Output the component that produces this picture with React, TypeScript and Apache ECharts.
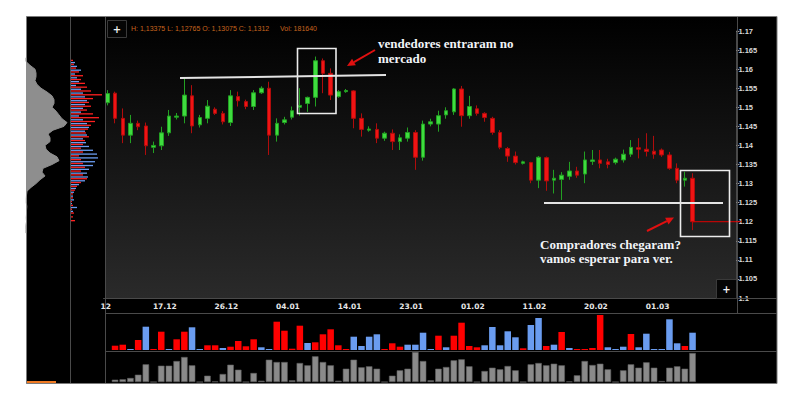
import { useEffect, useRef } from "react";
import * as echarts from "echarts";

// ---------- DATA ----------
const dates = [
  "09.12","10.12","11.12","12.12","13.12","14.12","16.12","17.12","18.12","19.12",
  "20.12","21.12","23.12","24.12","25.12","26.12","27.12","28.12","30.12","31.12",
  "01.01","02.01","03.01","04.01","06.01","07.01","08.01","09.01","10.01","11.01",
  "13.01","14.01","15.01","16.01","17.01","18.01","20.01","21.01","22.01","23.01",
  "24.01","25.01","27.01","28.01","29.01","30.01","31.01","01.02","03.02","04.02",
  "05.02","06.02","07.02","08.02","10.02","11.02","12.02","13.02","14.02","15.02",
  "17.02","18.02","19.02","20.02","21.02","22.02","24.02","25.02","26.02","27.02",
  "28.02","01.03","03.03","04.03","05.03","06.03","07.03",
];
const tickLabels = ["17.12","26.12","04.01","14.01","23.01","01.02","11.02","20.02","01.03"];

const opens = [
  1.1512,1.1537,1.1471,1.1427,1.1458,1.1451,1.1395,1.1399,1.1433,1.1474,
  1.1477,1.1530,1.1454,1.1471,1.1495,1.1484,1.1460,1.1528,1.1515,1.1502,
  1.1538,1.1550,1.1427,1.1460,1.1474,1.1500,1.1510,1.1526,1.1622,1.1589,
  1.1528,1.1541,1.1543,1.1471,1.1440,1.1442,1.1419,1.1432,1.1410,1.1419,
  1.1434,1.1369,1.1456,1.1456,1.1480,1.1488,1.1548,1.1478,1.1496,1.1484,
  1.1471,1.1434,1.1392,1.1372,1.1353,1.1355,1.1309,1.1368,1.1309,1.1311,
  1.1319,1.1333,1.1325,1.1358,1.1362,1.1357,1.1355,1.1362,1.1377,1.1394,
  1.1390,1.1385,1.1388,1.1375,1.1340,1.1309,1.1314,
];
const closes = [
  1.1536,1.1471,1.1427,1.1458,1.1449,1.1399,1.1400,1.1433,1.1477,1.1477,
  1.1532,1.1451,1.1473,1.1503,1.1484,1.1462,1.1530,1.1517,1.1502,1.1538,
  1.1550,1.1427,1.1458,1.1467,1.1491,1.1505,1.1526,1.1622,1.1589,1.1532,
  1.1541,1.1544,1.1471,1.1442,1.1443,1.1419,1.1432,1.1410,1.1420,1.1434,
  1.1369,1.1456,1.1462,1.1478,1.1491,1.1548,1.1478,1.1502,1.1484,1.1473,
  1.1434,1.1395,1.1372,1.1355,1.1357,1.1309,1.1369,1.1307,1.1314,1.1322,
  1.1333,1.1322,1.1362,1.1362,1.1353,1.1350,1.1364,1.1377,1.1395,1.1390,
  1.1384,1.1377,1.1375,1.1340,1.1309,1.1314,1.1200,
];
const lows = [
  1.1505,1.1458,1.1406,1.1406,1.1440,1.1375,1.1380,1.1388,1.1425,1.1468,
  1.1458,1.1432,1.1447,1.1458,1.1480,1.1455,1.1451,1.1502,1.1495,1.1493,
  1.1535,1.1375,1.1410,1.1455,1.1468,1.1478,1.1488,1.1502,1.1537,1.1519,
  1.1525,1.1538,1.1445,1.1423,1.1436,1.1406,1.1412,1.1388,1.1388,1.1410,
  1.1336,1.1360,1.1450,1.1436,1.1470,1.1480,1.1449,1.1470,1.1478,1.1462,
  1.1428,1.1390,1.1357,1.1350,1.1350,1.1301,1.1288,1.1281,1.1274,1.1257,
  1.1310,1.1315,1.1301,1.1349,1.1340,1.1340,1.1350,1.1355,1.1370,1.1366,
  1.1371,1.1365,1.1370,1.1336,1.1301,1.1292,1.1178,
];
const highs = [
  1.1545,1.1541,1.1497,1.1480,1.1465,1.1460,1.1410,1.1449,1.1493,1.1485,
  1.1576,1.1558,1.1480,1.1519,1.1500,1.1490,1.1545,1.1541,1.1520,1.1545,
  1.1555,1.1567,1.1471,1.1475,1.1502,1.1550,1.1528,1.1633,1.1628,1.1602,
  1.1545,1.1548,1.1545,1.1484,1.1450,1.1458,1.1436,1.1442,1.1429,1.1447,
  1.1440,1.1465,1.1470,1.1491,1.1500,1.1550,1.1556,1.1530,1.1505,1.1487,
  1.1475,1.1440,1.1396,1.1384,1.1360,1.1357,1.1372,1.1371,1.1336,1.1330,
  1.1357,1.1344,1.1384,1.1388,1.1388,1.1365,1.1368,1.1389,1.1414,1.1419,
  1.1432,1.1425,1.1392,1.1383,1.1353,1.1331,1.1327,
];

// signed: negative = sellers (red), positive = buyers (blue)
const deltaVolume = [
  null,-4.3,-5.3,0.7,-10,23.3,-0.7,-18.3,1,-10.7,
  -18.3,22.7,0.3,-4.7,-4.7,2,-3.3,-9,-3.7,-10.7,
  2.7,0.3,-28.3,-19.3,-1.3,-24.3,7,-7.7,-15.7,-20.7,
  -4.7,-0.3,13.3,4,13.3,15.7,-0.3,-6.7,-3.3,5.3,
  5.3,17.3,0.7,-14.3,2.7,-14.3,-27.3,-4,-2.7,4.7,
  23,4.7,18.7,12.7,-1.7,25,32,-4,5.3,-18,
  2,-0.7,-0.7,-2,-35,2.7,0.7,3.3,-16,2.7,
  16.3,0.3,0.3,30.7,6.7,-4,17.3,
];
const totalVolume = [
  null,2.3,2.7,4,7.3,17.7,0,16.3,16.3,21,
  25,16.7,0,6.3,0.5,8,17.3,12.3,0,9,
  1.3,22.3,20,20,1.7,19,16.7,25.7,20,16.7,
  1.3,13.3,22.3,14.7,15.7,13.3,0,6.3,11.7,13.3,
  30,21,1.7,13.3,15,21.7,22.7,15.7,0,11,
  14.3,12.7,16,11.7,0,17.7,19,16.7,18.3,16.7,
  0.5,6.7,21,17,18.3,12.7,0,11.7,17.7,14.3,
  19.7,14.3,1,14.3,15.7,13.3,29,
];

// volume profile by price level (ascending prices)
const priceLevels = [
  1.117,1.118,1.119,1.120,1.121,1.122,1.123,1.124,1.125,1.126,
  1.127,1.128,1.129,1.130,1.131,1.132,1.133,1.134,1.135,1.136,
  1.137,1.138,1.139,1.140,1.141,1.142,1.143,1.144,1.145,1.146,
  1.147,1.148,1.149,1.150,1.151,1.152,1.153,1.154,1.155,1.156,
  1.157,1.158,1.159,1.160,1.161,1.162,1.163,
];
const profileTotal = [
  0,0,0,0.5,0.3,0.5,0.5,0.8,0.3,0.3,
  0.5,1,5,10,14,19,16,17,26,33,
  31,24,20,19,24,24,22,27,38,41,
  36,33,30,26,28,28,26,21,15,11,
  9,10,10,9,4,0,0,
];
const profileSell = [
  0,0,0,4,2,3,1,2,1,2,
  2,4,6,10,16,12,10,14,12,10,
  8,12,10,12,14,18,15,17,20,24,
  28,22,16,20,18,22,31,20,16,14,
  10,12,8,5,3,2,0,
];
const profileBuy = [
  0,0,0,0,0,0,2,6,1,3,
  2,3,5,8,14,17,16,18,22,24,
  27,26,22,18,15,12,16,14,18,16,
  12,8,10,12,14,16,14,12,10,5,
  8,6,4,10,6,4,0,
];

const headerOHLC = "H: 1,13375 L: 1,12765 O: 1,13075 C: 1,1312";
const headerVol = "Vol: 181640";
const note1 = ["vendedores entraram no", "mercado"];
const note2 = ["Compradores chegaram?", "vamos esperar para ver."];

// ---------- LAYOUT ----------
const PRICE_MIN = 1.1;
const PRICE_MAX = 1.17;
const PLOT_TOP = 31;
const PLOT_H = 267;
const PLOT_LEFT = 103.5;
const PLOT_W = 631.4;
const SLOT_COUNT = 82;

const GREEN = "#3fdc3f";
const GREEN_EDGE = "#22a022";
const RED = "#f01414";
const RED_EDGE = "#b00c0c";
const BLUE = "#6a9cf0";
const LINE = "#4a4a4a";

function priceToY(p: number) {
  return PLOT_TOP + ((PRICE_MAX - p) / (PRICE_MAX - PRICE_MIN)) * PLOT_H;
}

function arrow(x1: number, y1: number, x2: number, y2: number, color: string) {
  const dx = x2 - x1, dy = y2 - y1;
  const len = Math.hypot(dx, dy);
  const ux = dx / len, uy = dy / len;
  const hl = 8, hw = 3.8;
  const bx = x2 - ux * hl, by = y2 - uy * hl;
  return [
    { type: "line", z: 100, shape: { x1, y1, x2: bx, y2: by }, style: { stroke: color, lineWidth: 2 } },
    {
      type: "polygon", z: 100,
      shape: { points: [[x2, y2], [bx - uy * hw, by + ux * hw], [bx + uy * hw, by - ux * hw]] },
      style: { fill: color },
    },
  ];
}

function plusBox(x: number, y: number, w: number, h: number) {
  return [
    { type: "rect", z: 60, shape: { x: x + 0.5, y: y + 0.5, width: w, height: h }, style: { fill: "#050505", stroke: "#3a3a3a", lineWidth: 1 } },
    {
      type: "text", z: 61, x: x + w / 2 + 0.5, y: y + h / 2 + 0.5,
      style: { text: "+", fill: "#f0f0f0", fontSize: 10, fontWeight: "bold", fontFamily: "DejaVu Sans", align: "center", verticalAlign: "middle" },
    },
  ];
}

export default function App() {
  const ref = useRef<HTMLDivElement>(null);

  useEffect(() => {
    if (!ref.current) return;
    const chart = echarts.init(ref.current, null, { renderer: "svg" });

    const cats = dates.concat(
      Array.from({ length: SLOT_COUNT - dates.length }, (_, i) => "_pad" + i)
    );
    const candleData = dates.map((_, i) => [opens[i], closes[i], lows[i], highs[i]]);

    const profTop = priceToY(priceLevels[priceLevels.length - 1]);
    const profBottom = priceToY(priceLevels[0]);
    const profStep = (profBottom - profTop) / (priceLevels.length - 1);
    const levelCats = priceLevels.map((p) => p.toFixed(3));

    chart.setOption({
      animation: false,
      backgroundColor: "transparent",
      grid: [
        { left: PLOT_LEFT, top: PLOT_TOP, width: PLOT_W, height: PLOT_H, outerBoundsMode: "none" },
        { left: PLOT_LEFT, top: 315, width: PLOT_W, height: 35, outerBoundsMode: "none" },
        { left: PLOT_LEFT, top: 352, width: PLOT_W, height: 30, outerBoundsMode: "none" },
        { left: 26, top: profTop, width: 44, height: profBottom - profTop, outerBoundsMode: "none" },
        { left: 71, top: profTop - profStep / 2, width: 33, height: profBottom - profTop + profStep, outerBoundsMode: "none" },
      ],
      xAxis: [
        {
          type: "category", gridIndex: 0, data: cats, boundaryGap: true,
          axisLine: { show: true, lineStyle: { color: LINE } },
          axisTick: { show: false },
          splitLine: { show: false },
          axisLabel: {
            interval: (_i: number, v: string) => tickLabels.includes(v),
            color: "#e6e6e6", fontSize: 7.5, fontWeight: "bold", fontFamily: "DejaVu Sans",
            margin: 4, padding: [0, 0, 0, 7],
          },
        },
        { type: "category", gridIndex: 1, data: cats, show: false, boundaryGap: true },
        { type: "category", gridIndex: 2, data: cats, show: false, boundaryGap: true },
        { type: "value", gridIndex: 3, min: 0, max: 44, show: false },
        { type: "value", gridIndex: 4, min: 0, max: 33, show: false },
      ],
      yAxis: [
        {
          type: "value", gridIndex: 0, position: "right", offset: 1.5,
          min: PRICE_MIN, max: PRICE_MAX, interval: 0.005,
          axisLine: { show: true, lineStyle: { color: LINE } },
          axisTick: { show: true, length: 3, lineStyle: { color: "#9a9a9a" } },
          splitLine: { show: false },
          axisLabel: {
            color: "#d8d8d8", fontSize: 7.5, fontWeight: "bold", fontFamily: "Liberation Sans", margin: 2,
            formatter: (v: number) => String(+v.toFixed(3)),
          },
        },
        { type: "value", gridIndex: 1, min: 0, max: 35, show: false },
        { type: "value", gridIndex: 2, min: 0, max: 30, show: false },
        { type: "category", gridIndex: 3, data: levelCats, boundaryGap: false, show: false },
        { type: "category", gridIndex: 4, data: levelCats, boundaryGap: true, show: false },
      ],
      series: [
        {
          type: "candlestick", xAxisIndex: 0, yAxisIndex: 0, data: candleData, barWidth: 4,
          itemStyle: { color: GREEN, color0: RED, borderColor: GREEN_EDGE, borderColor0: RED_EDGE, borderWidth: 1 },
        },
        {
          type: "bar", xAxisIndex: 1, yAxisIndex: 1, barWidth: 6.5, barMinHeight: 1,
          data: deltaVolume.map((v) =>
            v == null ? null : { value: Math.abs(v), itemStyle: { color: v < 0 ? "#ff0000" : BLUE } }
          ),
        },
        {
          type: "bar", xAxisIndex: 2, yAxisIndex: 2, barWidth: 6.5,
          data: totalVolume,
          itemStyle: { color: "#8a8a8a", borderColor: "#5e5e5e", borderWidth: 0.6 },
        },
        {
          type: "line", xAxisIndex: 3, yAxisIndex: 3, data: profileTotal, symbol: "none",
          lineStyle: { width: 1, color: "#8e8e8e" },
          areaStyle: { color: "#8e8e8e", opacity: 1 },
        },
        {
          type: "bar", xAxisIndex: 4, yAxisIndex: 4, data: profileSell, barWidth: 1.3, barGap: "60%",
          itemStyle: { color: "#ff2020" },
        },
        {
          type: "bar", xAxisIndex: 4, yAxisIndex: 4, data: profileBuy, barWidth: 1.3, barGap: "60%",
          itemStyle: { color: BLUE },
        },
      ],
    });

    const last = dates.length - 1;
    const lp = chart.convertToPixel({ seriesIndex: 0 }, [last, closes[last]]) as number[];

    const bgGradient = new echarts.graphic.LinearGradient(0, 0, 0, 1, [
      { offset: 0, color: "#000000" },
      { offset: 1, color: "#2a2a2a" },
    ]);

    const hline = (x1: number, x2: number, y: number) => ({
      type: "line", z: 5, shape: { x1, y1: y, x2, y2: y }, style: { stroke: LINE, lineWidth: 1 },
    });
    const vline = (x: number, y1: number, y2: number) => ({
      type: "line", z: 5, shape: { x1: x, y1, x2: x, y2 }, style: { stroke: LINE, lineWidth: 1 },
    });
    const noteText = (x: number, y: number, text: string) => ({
      type: "text", z: 100, x, y,
      style: { text, fill: "#f2f4f8", fontSize: 13, fontWeight: "bold", fontFamily: "Liberation Serif", verticalAlign: "middle" },
    });

    const elements: any[] = [
      // frame & backgrounds
      { type: "rect", z: -10, shape: { x: 26.5, y: 16.5, width: 750.5, height: 367 }, style: { fill: "#000", stroke: "#7a7a7a", lineWidth: 1 } },
      { type: "rect", z: -9, shape: { x: 105.5, y: 17, width: 631.5, height: 281 }, style: { fill: bgGradient } },
      vline(70.5, 17, 383), vline(105.5, 17, 383), vline(737.5, 17, 313),
      hline(105.5, 777, 298.5), hline(105.5, 777, 313.5), hline(105.5, 777, 351.5),
      { type: "rect", z: 5, shape: { x: 27, y: 381, width: 29, height: 2 }, style: { fill: "#f07a22" } },
      // partially visible first date label
      { type: "text", z: 5, x: 100.5, y: 306, style: { text: "12", fill: "#e6e6e6", fontSize: 7.5, fontWeight: "bold", fontFamily: "DejaVu Sans", verticalAlign: "middle" } },
      // header
      { type: "text", z: 60, x: 131, y: 28, style: { text: headerOHLC, fill: "#c8641e", fontSize: 7, fontFamily: "Liberation Sans", verticalAlign: "middle" } },
      { type: "text", z: 60, x: 280, y: 28, style: { text: headerVol, fill: "#c8641e", fontSize: 7, fontFamily: "Liberation Sans", verticalAlign: "middle" } },
      ...plusBox(107, 20, 19, 17),
      ...plusBox(716, 279, 20, 19),
      // current price line
      { type: "line", z: 40, shape: { x1: lp[0], y1: lp[1], x2: 741, y2: lp[1] }, style: { stroke: "#e00000", lineWidth: 1 } },
      // annotations
      { type: "rect", z: 100, shape: { x: 297.5, y: 48.5, width: 38.5, height: 65 }, style: { fill: "none", stroke: "#ececec", lineWidth: 1.6 } },
      { type: "line", z: 100, shape: { x1: 180, y1: 78, x2: 386, y2: 75 }, style: { stroke: "#e4e4e4", lineWidth: 2 } },
      ...arrow(375, 50, 347, 66, "#e01010"),
      noteText(378, 43, note1[0]),
      noteText(378, 58, note1[1]),
      { type: "rect", z: 100, shape: { x: 680.5, y: 170.5, width: 49, height: 66 }, style: { fill: "none", stroke: "#ececec", lineWidth: 1.6 } },
      { type: "line", z: 100, shape: { x1: 544, y1: 203, x2: 723, y2: 203 }, style: { stroke: "#e4e4e4", lineWidth: 2 } },
      ...arrow(647, 231, 674, 217.5, "#e01010"),
      noteText(540, 244, note2[0]),
      noteText(540, 258, note2[1]),
    ];

    chart.setOption({ graphic: { elements } });

    return () => chart.dispose();
  }, []);

  return (
    <div
      ref={ref}
      style={{ position: "absolute", left: 0, top: 0, width: 787, height: 400, background: "#fff" }}
    />
  );
}
